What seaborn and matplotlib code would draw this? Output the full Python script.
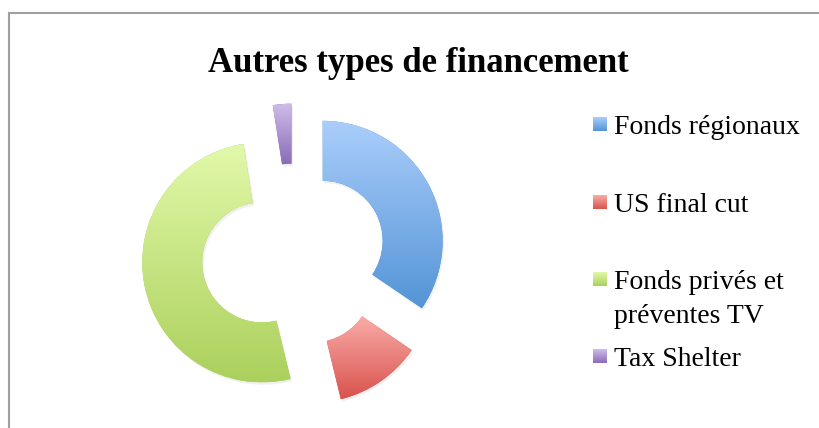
import numpy as np
import matplotlib
matplotlib.use("Agg")
import matplotlib.pyplot as plt
import seaborn as sns
from matplotlib.patches import Rectangle
from matplotlib.colors import LinearSegmentedColormap

# ---- data ----
title = "Autres types de financement"
categories = ["Fonds régionaux", "US final cut", "Fonds privés et\npréventes TV", "Tax Shelter"]
values = [34.5, 11.7, 51.3, 2.5]
top_colors = ["#aacefb", "#f9aca8", "#e2f9aa", "#cfbde9"]
bottom_colors = ["#5494d6", "#d9534d", "#abd05c", "#8a6cb8"]

sns.set_theme(style="white")
plt.rcParams["font.family"] = ["Liberation Serif", "DejaVu Serif"]

W, H, DPI = 820, 428, 100
fig = plt.figure(figsize=(W / DPI, H / DPI), dpi=DPI)
fig.patch.set_facecolor("white")

# pie axes: centre at (294, 256) px from top-left, 1 unit = 120 px
cx, cy, unit, lim = 294, 256, 120, 1.4
side = 2 * lim * unit
ax = fig.add_axes([(cx - side / 2) / W, (H - cy - side / 2) / H, side / W, side / H])

explode = [0.27] * len(values)
# soft shadow
sh, _ = ax.pie(values, startangle=90, counterclock=False, radius=1.0,
               explode=explode, center=(0.012, -0.02),
               wedgeprops=dict(width=0.5, edgecolor="none", facecolor="#000000", alpha=0.06))
wedges, _ = ax.pie(values, startangle=90, counterclock=False, radius=1.0,
                   explode=explode,
                   wedgeprops=dict(width=0.5, edgecolor="none"))

for w, ct, cb in zip(wedges, top_colors, bottom_colors):
    w.set_facecolor(cb)
    bb = w.get_path().get_extents()
    cmap = LinearSegmentedColormap.from_list("g", [cb, ct])
    grad = np.linspace(0, 1, 256).reshape(-1, 1)
    im = ax.imshow(grad, cmap=cmap, origin="lower", aspect="auto",
                   extent=[bb.x0, bb.x1, bb.y0, bb.y1], zorder=w.get_zorder() + 0.1,
                   interpolation="bilinear")
    im.set_clip_path(w)

ax.set_xlim(-lim, lim)
ax.set_ylim(-lim, lim)
ax.set_aspect("equal")
ax.axis("off")

# title
fig.text(418 / W, 1 - 72 / H, title, ha="center", va="baseline",
         fontsize=25, fontweight="bold", color="black")

# legend (manual)
sq_x, sq_size = 593, 14
square_bottoms = [131, 209, 286, 363]
for lab, ct, cb, sb in zip(categories, top_colors, bottom_colors, square_bottoms):
    lax = fig.add_axes([sq_x / W, (H - sb) / H, sq_size / W, sq_size / H])
    lax.imshow(np.linspace(0, 1, 64).reshape(-1, 1),
               cmap=LinearSegmentedColormap.from_list("g", [ct, cb]),
               aspect="auto", extent=[0, 1, 0, 1])
    lax.axis("off")
    for i, line in enumerate(lab.split("\n")):
        fig.text(614 / W, 1 - (sb + 3 + 34 * i) / H, line, ha="left", va="baseline",
                 fontsize=20, color="black")

# chart border
fig.add_artist(Rectangle((9 / W, -0.1), 1.2, (H - 12.5) / H + 0.1,
                         transform=fig.transFigure, fill=False,
                         edgecolor="#a0a0a0", linewidth=1.5))

fig.savefig("out.png", dpi=DPI, facecolor="white")
